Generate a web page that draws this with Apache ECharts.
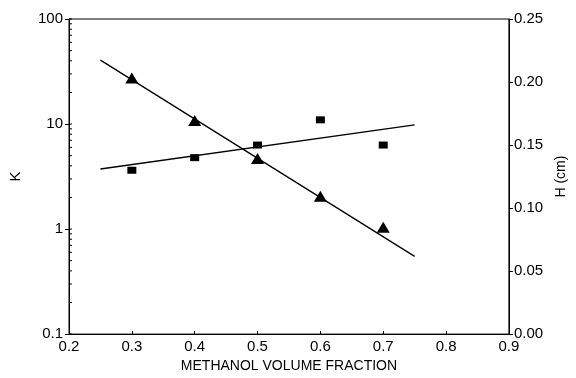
<!DOCTYPE html>
<html>
<head>
<meta charset="utf-8">
<script src="https://cdn.jsdelivr.net/npm/echarts@6/dist/echarts.min.js"></script>
<style>
  html, body { margin: 0; padding: 0; background: #fff; }
  #chart { width: 576px; height: 378px; }
</style>
</head>
<body>
<div id="chart"></div>
<script>
// Methanol volume fraction of the mobile phase
var fractions = [0.3, 0.4, 0.5, 0.6, 0.7];
// Retention factor K (left, log scale)
var kValues = [27.5, 10.8, 4.7, 2.05, 1.04];
// Plate height H in cm (right axis)
var hValues = [0.13, 0.14, 0.15, 0.17, 0.15];
// Fitted trend lines (end points)
var kFitX = [0.25, 0.75];
var kFitY = [40.6, 0.55];
var hFitX = [0.25, 0.75];
var hFitY = [0.131, 0.166];
// Log-axis tick positions drawn inside the frame
var logMinorTicks = [0.2, 0.3, 0.4, 0.5, 0.6, 0.7, 0.8, 0.9,
                     2, 3, 4, 5, 6, 7, 8, 9,
                     20, 30, 40, 50, 60, 70, 80, 90];
var logMajorTicks = [0.1, 1, 10, 100];

function pairs(xs, ys) {
  return xs.map(function (x, i) { return [x, ys[i]]; });
}

var font = '"Liberation Sans", Arial, Helvetica, sans-serif';
var chart = echarts.init(document.getElementById('chart'), null, { renderer: 'canvas' });

var option = {
  animation: false,
  backgroundColor: '#ffffff',
  grid: {
    left: 68, right: 65, top: 19, bottom: 40,
    show: true, borderColor: '#000', borderWidth: 1, backgroundColor: 'transparent'
  },
  xAxis: {
    type: 'value', min: 0.2, max: 0.9, interval: 0.1,
    name: 'METHANOL VOLUME FRACTION', nameLocation: 'middle', nameGap: 24,
    nameTextStyle: { color: '#000', fontSize: 14, fontFamily: font },
    axisLine: { lineStyle: { color: '#000', width: 1 } },
    axisTick: { show: true, inside: true, length: 3, lineStyle: { color: '#000' } },
    axisLabel: { color: '#000', fontSize: 15, fontFamily: font, margin: 5,
      formatter: function (v) { return v.toFixed(1); } },
    splitLine: { show: false }
  },
  yAxis: [{
    type: 'log', logBase: 10, min: 0.1, max: 100,
    name: 'K', nameLocation: 'middle', nameGap: 46,
    nameTextStyle: { color: '#000', fontSize: 15, fontFamily: font },
    axisLine: { show: true, lineStyle: { color: '#000', width: 1 } },
    axisTick: { show: true, inside: false, length: 4, lineStyle: { color: '#000' } },
    axisLabel: { color: '#000', fontSize: 15, fontFamily: font, margin: 6,
      formatter: function (v) { return v < 1 ? String(Number(v.toFixed(1))) : String(Math.round(v)); } },
    splitLine: { show: false }
  }, {
    type: 'value', min: 0, max: 0.25, interval: 0.05, position: 'right',
    name: 'H (cm)', nameLocation: 'middle', nameGap: 33,
    nameTextStyle: { color: '#000', fontSize: 14, fontFamily: font },
    axisLine: { show: true, lineStyle: { color: '#000', width: 1 } },
    axisTick: { show: true, inside: false, length: 4, lineStyle: { color: '#000' } },
    axisLabel: { color: '#000', fontSize: 15, fontFamily: font, margin: 5,
      formatter: function (v) { return v.toFixed(2); } },
    splitLine: { show: false }
  }],
  series: [{
    // inner tick marks of the logarithmic K axis
    type: 'custom', yAxisIndex: 0, silent: true,
    data: logMinorTicks.map(function (v) { return [0.2, v, 3]; })
      .concat(logMajorTicks.map(function (v) { return [0.2, v, 3]; })),
    renderItem: function (params, api) {
      var p = api.coord([api.value(0), api.value(1)]);
      var len = api.value(2);
      return {
        type: 'line',
        shape: { x1: p[0], y1: p[1], x2: p[0] + len, y2: p[1] },
        style: { stroke: '#000', lineWidth: 1 }
      };
    },
    z: 1
  }, {
    name: 'K fit', type: 'line', yAxisIndex: 0,
    data: pairs(kFitX, kFitY), symbol: 'none',
    lineStyle: { color: '#000', width: 1.3 }, z: 2
  }, {
    name: 'H fit', type: 'line', yAxisIndex: 1,
    data: pairs(hFitX, hFitY), symbol: 'none',
    lineStyle: { color: '#000', width: 1.3 }, z: 2
  }, {
    name: 'K', type: 'scatter', yAxisIndex: 0,
    data: pairs(fractions, kValues), symbol: 'triangle', symbolSize: [13, 11],
    itemStyle: { color: '#000', opacity: 1 }, z: 3
  }, {
    name: 'H', type: 'scatter', yAxisIndex: 1,
    data: pairs(fractions, hValues), symbol: 'rect', symbolSize: [9, 7],
    itemStyle: { color: '#000', opacity: 1 }, z: 3
  }]
};

chart.setOption(option);
</script>
</body>
</html>
